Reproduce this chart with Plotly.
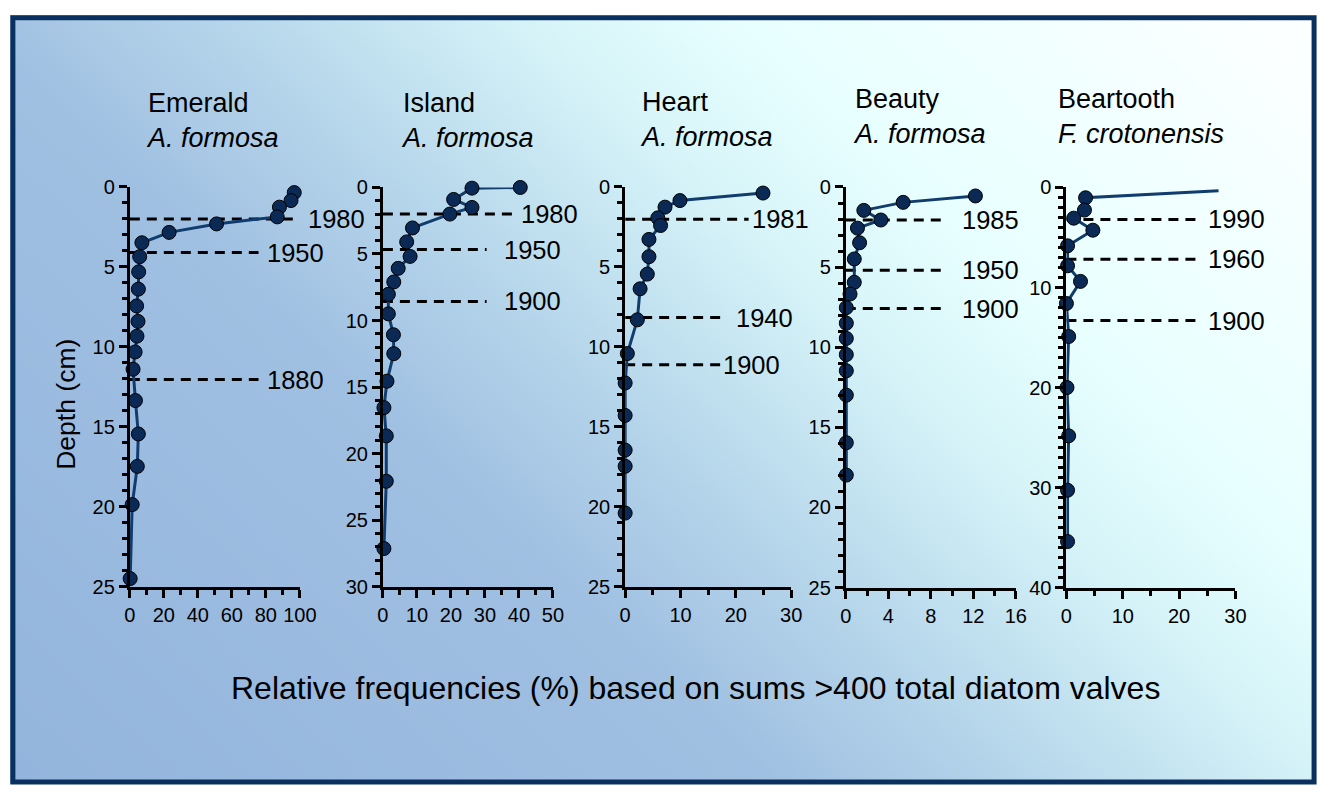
import base64
import plotly.graph_objects as go

W, H = 1335, 795


def X(px):
    return px / W


def Y(py):
    return 1 - py / H


# ---------------- data ----------------
lakes = ["Emerald", "Island", "Heart", "Beauty", "Beartooth"]
taxa = ["A. formosa", "A. formosa", "A. formosa", "A. formosa", "F. crotonensis"]

emerald_pct = [96.7, 94.8, 88.0, 86.7, 51.0, 23.1, 7.1, 5.8, 5.2, 5.0, 4.0, 4.8, 4.2, 3.1, 1.9, 3.3, 5.0, 4.4, 1.4, 0.2]
emerald_depth = [0.35, 0.85, 1.26, 1.87, 2.31, 2.84, 3.49, 4.36, 5.31, 6.39, 7.44, 8.41, 9.33, 10.32, 11.4, 13.36, 15.45, 17.48, 19.87, 24.5]

island_pct = [40.4, 26.2, 20.8, 26.2, 19.7, 8.7, 7.0, 8.0, 4.5, 3.2, 1.6, 1.6, 3.1, 3.2, 1.2, 0.3, 1.0, 1.0, 0.3]
island_depth = [0.0, 0.05, 0.9, 1.5, 2.0, 3.04, 4.09, 5.18, 6.08, 7.1, 8.03, 9.5, 11.07, 12.49, 14.56, 16.55, 18.67, 22.08, 27.14]

heart_pct = [24.9, 9.9, 7.2, 5.9, 6.4, 4.3, 4.3, 4.0, 2.7, 2.2, 0.4, 0.0, 0.0, 0.0, 0.0, 0.0]
heart_depth = [0.38, 0.85, 1.26, 1.93, 2.41, 3.28, 4.36, 5.45, 6.37, 8.31, 10.42, 12.26, 14.29, 16.46, 17.47, 20.4]

beauty_pct = [12.2, 5.4, 1.7, 3.3, 1.1, 1.3, 0.8, 0.8, 0.4, 0.05, 0.05, 0.05, 0.05, 0.05, 0.05, 0.05, 0.05]
beauty_depth = [0.56, 0.96, 1.46, 2.06, 2.57, 3.48, 4.49, 5.95, 6.68, 7.53, 8.5, 9.45, 10.46, 11.47, 12.99, 15.96, 17.98]

beartooth_pct = [27.0, 3.4, 3.2, 1.3, 4.7, 0.2, 0.2, 2.5, 0.0, 0.4, 0.1, 0.4, 0.2, 0.2]
beartooth_depth = [0.32, 1.03, 2.26, 3.07, 4.27, 5.83, 7.83, 9.39, 11.6, 14.9, 20.0, 24.83, 30.27, 35.4]

emerald_years = ["1980", "1950", "1880"]
emerald_year_depth = [2.0, 4.1, 12.05]
island_years = ["1980", "1950", "1900"]
island_year_depth = [2.0, 4.67, 8.57]
heart_years = ["1981", "1940", "1900"]
heart_year_depth = [2.02, 8.17, 11.12]
beauty_years = ["1985", "1950", "1900"]
beauty_year_depth = [2.06, 5.2, 7.59]
beartooth_years = ["1990", "1960", "1900"]
beartooth_year_depth = [3.2, 7.17, 13.3]

x_max = [100, 50, 30, 16, 30]
x_dtick = [20, 10, 10, 4, 10]
x_minor = [10, 5, 5, 2, 5]
y_max = [25, 30, 25, 25, 40]
y_dtick = [5, 5, 5, 5, 10]
y_minor = [1, 1, 1, 1, 1]

x_title = "Relative frequencies (%) based on sums >400 total diatom valves"
y_title = "Depth (cm)"

pct = [emerald_pct, island_pct, heart_pct, beauty_pct, beartooth_pct]
depth = [emerald_depth, island_depth, heart_depth, beauty_depth, beartooth_depth]
years = [emerald_years, island_years, heart_years, beauty_years, beartooth_years]
year_depth = [emerald_year_depth, island_year_depth, heart_year_depth, beauty_year_depth, beartooth_year_depth]

# ---------------- layout geometry (page pixels) ----------------
dom_px = [(126, 299, 181, 592), (383.5, 556.5, 181.5, 592), (630, 799, 181, 592),
          (854.5, 1027.5, 181, 593), (1079, 1251, 181.5, 593)]
# dashed line end (data units) and gap to its label (px)
dash_end = [[100, 75.7, 75.7], [38.5, 30.5, 30.5], [22.3, 18.1, 17.2], [9.5, 9.5, 9.5], [23.9, 23.9, 23.9]]
label_gap = [[6, 6, 6], [5, 15, 15], [1, 9, 1], [13, 13, 13], [5, 5, 5]]
title_pos = [(140, 113), (400, 113), (643, 112), (860, 109), (1068, 109)]
hide_first_marker = [False, False, False, False, True]

FONT = "Liberation Sans, Arial, sans-serif"
LINE_C = "#113c6e"
MARK_C = "#0a2a55"
BORDER_C = "#0a3060"

# gradient background (inside the frame) as an svg image, page coordinates
BX0, BY0, BX1, BY1 = 4, 4, 1333, 795
svg = f'''<svg xmlns="http://www.w3.org/2000/svg" width="{BX1-BX0}" height="{BY1-BY0}" viewBox="{BX0} {BY0} {BX1-BX0} {BY1-BY0}" preserveAspectRatio="none">
<defs><linearGradient id="g" gradientUnits="userSpaceOnUse" x1="0" y1="{H}" x2="1040" y2="{H-1092}">
<stop offset="0" stop-color="#93b4dc"/>
<stop offset="0.36" stop-color="#a0c0e2"/>
<stop offset="0.47" stop-color="#b4d4ea"/>
<stop offset="0.62" stop-color="#d6f4f8"/>
<stop offset="0.72" stop-color="#e8ffff"/>
<stop offset="1" stop-color="#ffffff"/>
</linearGradient></defs>
<rect x="0" y="0" width="{W}" height="{H}" fill="url(#g)"/>
</svg>'''
svg_uri = "data:image/svg+xml;base64," + base64.b64encode(svg.encode()).decode()

fig = go.Figure()
layout = dict(
    width=W, height=H, margin=dict(l=0, r=0, t=0, b=0),
    paper_bgcolor="white", plot_bgcolor="rgba(0,0,0,0)",
    showlegend=False, font=dict(family=FONT, color="black"),
    images=[dict(source=svg_uri, xref="paper", yref="paper", x=X(BX0), y=Y(BY0),
                 sizex=(BX1 - BX0) / W, sizey=(BY1 - BY0) / H, sizing="stretch", layer="below",
                 xanchor="left", yanchor="top")],
    shapes=[dict(type="rect", xref="paper", yref="paper", x0=X(7), x1=X(1331),
                 y0=Y(793), y1=Y(7), line=dict(color=BORDER_C, width=5),
                 fillcolor="rgba(0,0,0,0)", layer="above")],
    annotations=[],
)

for i in range(5):
    sfx = "" if i == 0 else str(i + 1)
    xa, ya = "x" + sfx, "y" + sfx
    x0, x1, yt, yb = dom_px[i]
    common = dict(showline=True, linecolor="black", linewidth=3, showgrid=False, zeroline=False,
                  ticks="outside", tickcolor="black", tickwidth=3, ticklen=8,
                  tickfont=dict(family=FONT, size=20, color="black"))
    layout["xaxis" + sfx] = dict(common, domain=[X(x0), X(x1)], anchor=ya, range=[0, x_max[i]],
                                 tick0=0, dtick=x_dtick[i], tickangle=0,
                                 minor=dict(ticks="outside", dtick=x_minor[i], tick0=0, ticklen=5,
                                            tickwidth=2.5, tickcolor="black"))
    layout["yaxis" + sfx] = dict(common, domain=[Y(yb), Y(yt)], anchor=xa,
                                 range=[y_max[i], 0], tick0=0, dtick=y_dtick[i],
                                 minor=dict(ticks="outside", dtick=y_minor[i], tick0=0, ticklen=5,
                                            tickwidth=2.5, tickcolor="black"))
    sizes = [14] * len(pct[i])
    if hide_first_marker[i]:
        sizes[0] = 0
    # dashed date lines with their year labels
    for k, yv in enumerate(year_depth[i]):
        fig.add_trace(go.Scatter(x=[0, dash_end[i][k]], y=[yv, yv], mode="lines", xaxis=xa, yaxis=ya,
                                 line=dict(color="black", width=3, dash="10px,7px"),
                                 hoverinfo="skip", cliponaxis=False))
        layout["annotations"].append(dict(x=dash_end[i][k], y=yv, xref=xa, yref=ya, text=years[i][k],
                                          showarrow=False, xanchor="left", yanchor="middle",
                                          xshift=label_gap[i][k],
                                          font=dict(family=FONT, size=25.5, color="black")))
    fig.add_trace(go.Scatter(x=pct[i], y=depth[i], mode="lines+markers", xaxis=xa, yaxis=ya,
                             line=dict(color=LINE_C, width=3),
                             marker=dict(size=sizes, color=MARK_C, opacity=1,
                                         line=dict(color="black", width=1)),
                             cliponaxis=False))
    tx, ty = title_pos[i]
    layout["annotations"].append(dict(x=X(tx), y=Y(ty), xref="paper", yref="paper",
                                      text=f"{lakes[i]}<br><i>{taxa[i]}</i>", showarrow=False,
                                      xanchor="left", yanchor="middle", align="left",
                                      font=dict(family=FONT, size=27, color="black")))

layout["annotations"].append(dict(x=X(61), y=Y(404), xref="paper", yref="paper", text=y_title,
                                  textangle=-90, showarrow=False, xanchor="center", yanchor="middle",
                                  font=dict(family=FONT, size=26.5, color="black")))
layout["annotations"].append(dict(x=X(702), y=Y(696), xref="paper", yref="paper", text=x_title,
                                  showarrow=False, xanchor="center", yanchor="middle",
                                  font=dict(family=FONT, size=32, color="black")))

fig.update_layout(**layout)
fig.write_html("out.html", config={"displayModeBar": False},
               post_script="document.body.style.margin='0';document.body.style.overflow='hidden';")
